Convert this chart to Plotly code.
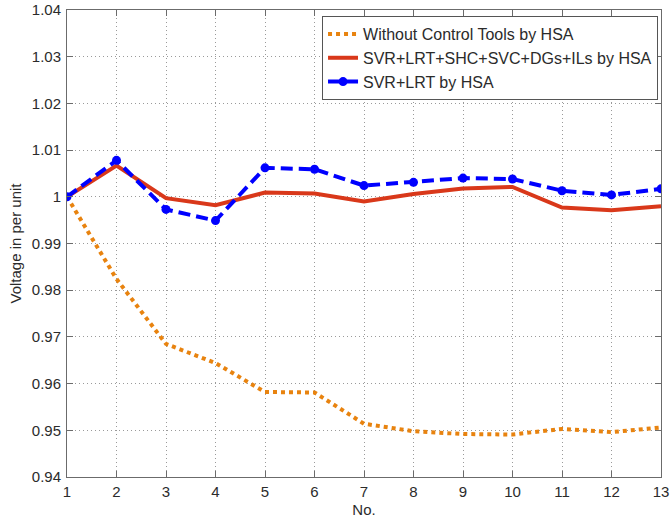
import plotly.graph_objects as go

# Bus numbers along the feeder
bus_no = list(range(1, 14))

# Bus voltage profiles (p.u.)
v_without_control = [1.000, 0.9824, 0.9685, 0.9644, 0.9582, 0.9581, 0.9514,
                     0.9498, 0.9492, 0.9491, 0.9503, 0.9496, 0.9506]
v_all_tools = [1.000, 1.0067, 0.9997, 0.9982, 1.0009, 1.0007, 0.9990,
               1.0006, 1.0018, 1.0021, 0.9977, 0.9971, 0.9980]
v_svr_lrt = [1.000, 1.0078, 0.9973, 0.9949, 1.0062, 1.0059, 1.0024,
             1.0031, 1.0040, 1.0038, 1.0013, 1.0004, 1.0017]

series_names = [
    "Without Control Tools by HSA",
    "SVR+LRT+SHC+SVC+DGs+ILs by HSA",
    "SVR+LRT by HSA",
]

y_tick_vals = [0.94, 0.95, 0.96, 0.97, 0.98, 0.99, 1.00, 1.01, 1.02, 1.03, 1.04]
y_tick_text = ["0.94", "0.95", "0.96", "0.97", "0.98", "0.99", "1", "1.01", "1.02", "1.03", "1.04"]

FONT = "Arial, 'Liberation Sans', Helvetica, sans-serif"
TEXT_COLOR = "#2b2b2b"
AXIS_COLOR = "#6b6b6b"
GRID_COLOR = "#9a9a9a"

fig = go.Figure()

fig.add_trace(go.Scatter(
    x=bus_no, y=v_without_control, name=series_names[0], mode="lines",
    line=dict(color="#e8830f", width=4, dash="dot"),
))
fig.add_trace(go.Scatter(
    x=bus_no, y=v_all_tools, name=series_names[1], mode="lines",
    line=dict(color="#d9381a", width=4),
))
fig.add_trace(go.Scatter(
    x=bus_no, y=v_svr_lrt, name=series_names[2], mode="lines+markers",
    line=dict(color="#0000ff", width=4, dash="12px,6px"),
    marker=dict(color="#0000ff", size=9, symbol="circle"),
))

axis_common = dict(
    showline=True, linecolor=AXIS_COLOR, linewidth=1, mirror="allticks",
    ticks="inside", ticklen=6, tickcolor=AXIS_COLOR, tickwidth=1,
    showgrid=True, gridcolor=GRID_COLOR, gridwidth=1, griddash="1px,3px",
    zeroline=False, automargin=False,
    tickfont=dict(family=FONT, size=15, color=TEXT_COLOR),
)

fig.update_xaxes(
    range=[1, 13], tickmode="array", tickvals=bus_no,
    ticklabelstandoff=1,
    title=dict(text="No.", font=dict(family=FONT, size=15, color=TEXT_COLOR), standoff=10),
    **axis_common,
)
fig.update_yaxes(
    range=[0.94, 1.04], tickmode="array", tickvals=y_tick_vals, ticktext=y_tick_text,
    ticklabelstandoff=2,
    title=dict(text="Voltage in per unit", font=dict(family=FONT, size=15, color=TEXT_COLOR), standoff=6),
    **axis_common,
)

fig.update_layout(
    width=670, height=518,
    margin=dict(l=67, r=9, t=10, b=41),
    paper_bgcolor="white", plot_bgcolor="white",
    font=dict(family=FONT, size=16, color=TEXT_COLOR),
    showlegend=True,
    legend=dict(
        x=0.995, y=0.987, xanchor="right", yanchor="top",
        bgcolor="white", bordercolor="#555555", borderwidth=1,
        font=dict(family=FONT, size=16, color=TEXT_COLOR),
        tracegroupgap=0, itemwidth=30,
    ),
)

fig.write_html("out.html")
